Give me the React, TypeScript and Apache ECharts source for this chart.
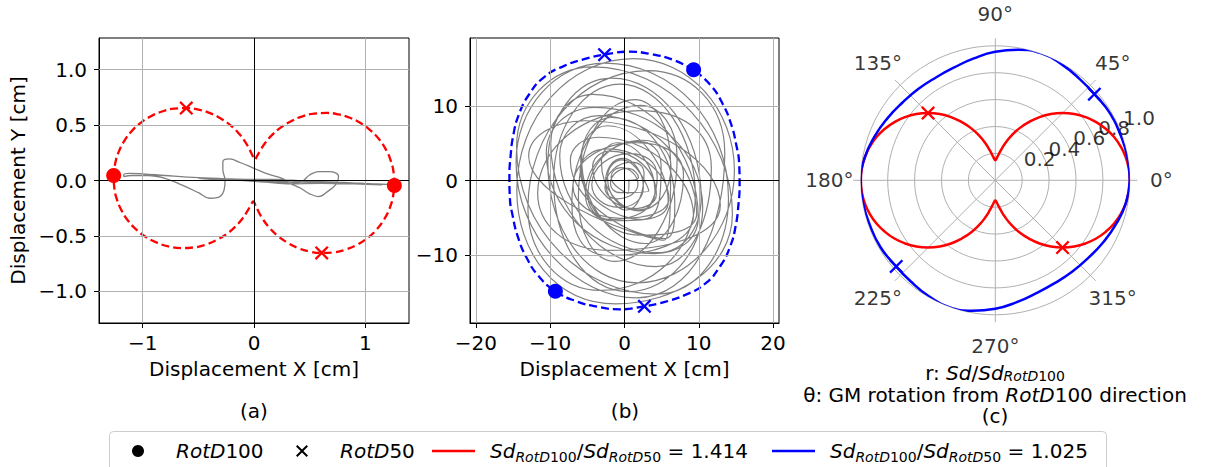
import React, { useEffect, useRef } from 'react';
import * as echarts from 'echarts';

const FONT = 'DejaVu Sans';

// ---------- panel (c): Sd / Sd_RotD100 versus GM rotation angle (deg) ----------
const redTheta = [0, 5, 10, 15, 20, 25, 30, 35, 40, 45, 50, 55, 60, 65, 70, 75, 80, 85, 90, 95, 100, 105, 110, 115, 120, 125, 130, 135, 140, 145, 150, 155, 160, 165, 170, 175, 180,
  185, 190, 195, 200, 205, 210, 215, 220, 225, 230, 235, 240, 245, 250, 255, 260, 265, 270, 275, 280, 285, 290, 295, 300, 305, 310, 315, 320, 325, 330, 335, 340, 345, 350, 355, 360];
const redR = [1.0, 0.996, 0.985, 0.966, 0.94, 0.906, 0.866, 0.819, 0.766, 0.707, 0.643, 0.574, 0.5, 0.428, 0.355, 0.285, 0.222, 0.175, 0.15, 0.175, 0.222, 0.285, 0.355, 0.428, 0.5, 0.574, 0.643, 0.707, 0.766, 0.819, 0.866, 0.906, 0.94, 0.966, 0.985, 0.996, 1.0,
  0.996, 0.985, 0.966, 0.94, 0.906, 0.866, 0.819, 0.766, 0.707, 0.643, 0.574, 0.5, 0.428, 0.355, 0.285, 0.222, 0.175, 0.15, 0.175, 0.222, 0.285, 0.355, 0.428, 0.5, 0.574, 0.643, 0.707, 0.766, 0.819, 0.866, 0.906, 0.94, 0.966, 0.985, 0.996, 1.0];

const blueTheta = [0, 10, 20, 30, 40, 50, 60, 70, 80, 90, 100, 110, 120, 130, 140, 150, 160, 170, 180,
  190, 200, 210, 220, 230, 240, 250, 260, 270, 280, 290, 300, 310, 320, 330, 340, 350, 360];
const blueR = [1.0, 0.997, 0.99, 0.988, 0.977, 0.98, 0.993, 1.004, 0.985, 0.955, 0.92, 0.893, 0.883, 0.888, 0.9, 0.925, 0.955, 0.985, 1.0,
  0.997, 0.99, 0.988, 0.977, 0.98, 0.993, 1.004, 0.985, 0.955, 0.92, 0.893, 0.883, 0.888, 0.9, 0.925, 0.955, 0.985, 1.0];

// RotD100 / RotD50 rotation angles (deg) and normalised amplitudes
const rotD100Theta = [0, 180];
const rotD100R = [1, 1];
const redRotD50Theta = [135, 315];
const redRotD50R = [0.707, 0.707];
const blueRotD50Theta = [41, 221];
const blueRotD50R = [0.976, 0.976];

// Sd_RotD100 (cm) and RotD100 direction (deg) of each record
const sdA = 1.262;
const dirA = -2;
const sdB = 17.56;
const dirB = 58;

// ---------- displacement traces (cm) ----------
const traceA = [
  [0.02, 0.0], [0.25, -0.01], [0.5, -0.015], [0.8, -0.02], [1.05, -0.03], [1.2, -0.035], [1.0, -0.03], [0.75, -0.015],
  [0.45, -0.005], [0.2, 0.01], [0.0, 0.01], [-0.25, 0.015], [-0.5, 0.025], [-0.8, 0.045], [-1.0, 0.06], [-1.12, 0.065],
  [-1.17, 0.055], [-1.17, 0.035], [-1.1, 0.045], [-0.95, 0.045], [-0.8, 0.02], [-0.65, -0.04], [-0.5, -0.11], [-0.4, -0.16],
  [-0.33, -0.155], [-0.27, -0.09], [-0.26, 0.0], [-0.28, 0.1], [-0.28, 0.17], [-0.22, 0.195], [-0.12, 0.16], [0.0, 0.11],
  [0.12, 0.06], [0.25, 0.02], [0.35, -0.02], [0.42, -0.015], [0.5, 0.05], [0.58, 0.08], [0.68, 0.08], [0.76, 0.04],
  [0.74, -0.03], [0.66, -0.1], [0.58, -0.145], [0.5, -0.12], [0.4, -0.06], [0.28, -0.02], [0.1, -0.015], [-0.1, 0.0],
  [-0.3, 0.01], [-0.5, 0.02], [-0.3, 0.005], [0.0, -0.005], [0.3, -0.03], [0.6, -0.025], [0.9, -0.03], [1.15, -0.04],
  [0.95, -0.025], [0.6, -0.02], [0.3, -0.01], [0.05, 0.0],
];

// orbit of record (b): each loop listed by its right, top, left and bottom turning points
const traceB = [
  [0, 0],
  [1.89, 0.4], [0.46, 1.64], [-1.89, -0.4], [-0.46, -1.64],
  [3.28, -1.43], [-0.29, 2.78], [-2.28, 0.43], [1.29, -3.78],
  [4.29, -1.84], [-1.99, 3.95], [-4.29, 1.84], [1.99, -3.95],
  [6.26, 1.88], [2.5, 5.42], [-5.26, -1.88], [-1.5, -5.42],
  [5.89, -2.87], [-2.29, 7.37], [-5.89, 2.87], [2.29, -7.37],
  [9.72, -4.4], [-3.4, 8.72], [-8.72, 3.4], [4.4, -9.72],
  [10.32, -2.33], [-1.74, 13.77], [-10.32, 2.33], [1.74, -13.77],
  [14.8, 1.3], [1.2, 16.4], [-14.5, -1.3], [-1.2, -16.6],
  [14.53, -4.5], [-4.27, 15.3], [-14.53, 4.5], [4.27, -15.3],
  [14.0, -2.4], [-2.65, 15.8], [-14.6, 2.4], [1.65, -15.8],
  [13.5, 3.7], [3.2, 14.8], [-13.0, -3.7], [-3.2, -14.8],
  [9.54, -1.96], [-0.66, 12.97], [-9.54, -0.04], [0.66, -14.97],
  [10.53, -3.74], [-4.0, 9.85], [-10.53, 3.74], [4.0, -9.85],
  [9.93, -4.97], [-4.26, 11.6], [-9.93, 4.97], [4.26, -11.6],
  [11.69, 1.73], [2.15, 9.4], [-11.69, -1.73], [-2.15, -9.4],
  [12.9, -3.32], [-5.33, 8.04], [-12.9, 3.32], [5.33, -8.04],
  [6.21, 2.34], [1.33, 10.89], [-6.21, -2.34], [-1.33, -10.89],
  [7.09, 3.08], [2.16, 10.11], [-7.09, -3.08], [-2.16, -10.11],
  [9.29, -4.7], [-3.5, 5.82], [-7.29, 2.7], [5.5, -7.82],
  [6.77, -3.1], [-1.79, 8.48], [-5.77, 3.1], [2.79, -8.48],
  [7.94, 0.72], [1.55, 5.09], [-6.94, -0.72], [-0.55, -5.09],
  [5.97, -2.4], [-2.39, 4.25], [-5.97, 1.4], [2.39, -5.25],
  [4.93, 2.0], [1.87, 5.27], [-4.93, -2.0], [-1.87, -5.27],
  [4.11, -1.42], [-1.01, 5.08], [-3.11, 2.42], [2.01, -4.08],
  [4.4, 0.58], [0.71, 3.63], [-4.4, -0.58], [-0.71, -3.63],
  [2.54, -0.91], [-0.3, 2.97], [-2.54, -0.09], [0.3, -3.97],
  [2.63, 0.94], [1.0, 2.46], [-2.63, -0.94], [-1.0, -2.46],
  [1.81, -0.48], [-0.5, 1.72], [-1.81, 0.48], [0.5, -1.72],
  [0.6, 0.1],
];

// ---------- ticks ----------
const aXTicks = [-1, 0, 1];
const aYTicks = [-1, -0.5, 0, 0.5, 1];
const bXTicks = [-20, -10, 0, 10, 20];
const bYTicks = [-10, 0, 10];
const polarAngleTicks = [0, 45, 90, 135, 180, 225, 270, 315];
const polarRadiusTicks = [0.2, 0.4, 0.6, 0.8, 1.0];

const XPATH = 'path://M0,1.4L1.4,0L6,4.6L10.6,0L12,1.4L7.4,6L12,10.6L10.6,12L6,7.4L1.4,12L0,10.6L4.6,6Z';
const LINEPATH = 'path://M0,0H43V2.5H0Z';
const GRID_C = '#b0b0b0';
const CX = 995.3;
const CY = 180.3;
const R_POLAR = 134.5;

const minus = (s: string) => s.replace('-', '\u2212');
const toXY = (rs: number[], ths: number[], sd: number, dir: number) =>
  rs.map((r, i) => [sd * r * Math.cos(((ths[i] + dir) * Math.PI) / 180), sd * r * Math.sin(((ths[i] + dir) * Math.PI) / 180)]);
const toPolar = (rs: number[], ths: number[]) => rs.map((r, i) => [r, ths[i]]);

const AXF = { fontFamily: FONT, fontSize: 20, color: '#000' };
const RICH_LEG: any = {
  i: { fontFamily: FONT, fontSize: 20, fontStyle: 'italic', lineHeight: 26, color: '#000' },
  n: { fontFamily: FONT, fontSize: 20, lineHeight: 26, color: '#000' },
  si: { fontFamily: FONT, fontSize: 14, fontStyle: 'italic', lineHeight: 14, verticalAlign: 'bottom', color: '#000' },
  sn: { fontFamily: FONT, fontSize: 14, lineHeight: 14, verticalAlign: 'bottom', color: '#000' },
  gA: { width: 27 },
  gB: { width: 10 },
};
const RICH_TXT: any = {
  i: { fontFamily: FONT, fontSize: 20, fontStyle: 'italic', lineHeight: 20, color: '#000' },
  n: { fontFamily: FONT, fontSize: 20, lineHeight: 20, color: '#000' },
  si: { fontFamily: FONT, fontSize: 14, fontStyle: 'italic', lineHeight: 8, verticalAlign: 'bottom', color: '#000' },
  sn: { fontFamily: FONT, fontSize: 14, lineHeight: 8, verticalAlign: 'bottom', color: '#000' },
};

function legendCfg(name: string, left: number, w: number, icon: string, color: string, text: string) {
  return {
    left, top: 441, padding: 0, itemWidth: w, itemHeight: 12, selectedMode: false, symbolKeepAspect: true,
    data: [{ name, icon, itemStyle: { color, borderWidth: 0, opacity: 1 } }],
    formatter: () => text,
    textStyle: { ...AXF, rich: RICH_LEG },
  };
}

function xAxisCfg(grid: number, min: number, max: number, ticks: number[], fmt: (v: number) => string) {
  return {
    gridIndex: grid, type: 'value', min, max,
    name: 'Displacement X [cm]', nameLocation: 'middle', nameGap: 36, nameTextStyle: AXF,
    axisLine: { show: true, onZero: false, lineStyle: { color: '#000', width: 1 } },
    axisTick: { show: true, length: 5, inside: false, customValues: ticks, lineStyle: { color: '#000', width: 1 } },
    axisLabel: { ...AXF, margin: 10, customValues: ticks, formatter: fmt },
    splitLine: { show: false },
  };
}
function yAxisCfg(grid: number, min: number, max: number, ticks: number[], fmt: (v: number) => string, name?: string) {
  return {
    gridIndex: grid, type: 'value', min, max,
    name: name || '', nameLocation: 'middle', nameGap: 71, nameRotate: 90, nameTextStyle: AXF,
    axisLine: { show: true, onZero: false, lineStyle: { color: '#000', width: 1 } },
    axisTick: { show: true, length: 5, inside: false, customValues: ticks, lineStyle: { color: '#000', width: 1 } },
    axisLabel: { ...AXF, margin: 12, customValues: ticks, formatter: fmt },
    splitLine: { show: false },
  };
}
function markLines(idx: number, xs: number[], ys: number[], color: string, z: number) {
  return {
    type: 'line', xAxisIndex: idx, yAxisIndex: idx, data: [], silent: true, z,
    markLine: {
      silent: true, symbol: ['none', 'none'], label: { show: false }, animation: false,
      lineStyle: { color, width: 1, type: 'solid' },
      emphasis: { disabled: true },
      data: [...xs.map((v) => ({ xAxis: v })), ...ys.map((v) => ({ yAxis: v }))],
    },
  };
}
const hiddenAngle = (polarIndex: number) => ({
  polarIndex, type: 'value', min: 0, max: 360, interval: 45, startAngle: 0, clockwise: false,
  axisLine: { show: false }, axisTick: { show: false }, axisLabel: { show: false }, splitLine: { show: false },
});
const marker = (color: string) => ({ color, opacity: 1 });

export default function App() {
  const ref = useRef<HTMLDivElement>(null);
  useEffect(() => {
    if (!ref.current) return;
    const chart = echarts.init(ref.current, null, { renderer: 'svg', width: 1207, height: 467 });
    const aCurve = toXY(redR, redTheta, sdA, dirA);
    const bCurve = toXY(blueR, blueTheta, sdB, dirB);
    const aDots = toXY(rotD100R, rotD100Theta, sdA, dirA);
    const bDots = toXY(rotD100R, rotD100Theta, sdB, dirB);
    const aX = toXY(redRotD50R, redRotD50Theta, sdA, dirA);
    const bX = toXY(blueRotD50R, blueRotD50Theta, sdB, dirB);
    const txt = (x: number, y: number, text: string) => ({
      type: 'text', x, y,
      style: { text, rich: RICH_TXT, fontFamily: FONT, fontSize: 20, fill: '#000', align: 'center', verticalAlign: 'middle' },
    });

    const option: any = {
      animation: false,
      backgroundColor: '#fff',
      textStyle: { fontFamily: FONT },
      grid: [
        { left: 99, top: 38, width: 310, height: 285, show: true, borderColor: '#000', borderWidth: 1, backgroundColor: 'transparent' },
        { left: 470, top: 38, width: 309, height: 285, show: true, borderColor: '#000', borderWidth: 1, backgroundColor: 'transparent' },
      ],
      xAxis: [
        xAxisCfg(0, -1.393, 1.393, aXTicks, (v) => minus(String(v))),
        xAxisCfg(1, -20.8, 20.8, bXTicks, (v) => minus(String(v))),
      ],
      yAxis: [
        yAxisCfg(0, -1.284, 1.284, aYTicks, (v) => minus(v.toFixed(1)), 'Displacement Y [cm]'),
        yAxisCfg(1, -19.18, 19.18, bYTicks, (v) => minus(String(v))),
      ],
      polar: [
        { center: [CX, CY], radius: 142 },
        { center: [CX, CY], radius: R_POLAR },
        { center: [CX, CY], radius: 166 },
      ],
      angleAxis: [
        {
          polarIndex: 0, type: 'value', min: 0, max: 360, interval: 45, startAngle: 0, clockwise: false,
          axisLine: { show: false }, axisTick: { show: false }, axisLabel: { show: false },
          splitLine: { show: true, lineStyle: { color: GRID_C, width: 1 } },
        },
        hiddenAngle(1),
        hiddenAngle(2),
      ],
      radiusAxis: [
        { polarIndex: 0, type: 'value', min: 0, max: 1.056, show: false },
        {
          polarIndex: 1, type: 'value', min: 0, max: 1, interval: 0.2,
          axisLine: { show: false }, axisTick: { show: false }, axisLabel: { show: false },
          splitLine: { show: true, lineStyle: { color: GRID_C, width: 1 } },
        },
        { polarIndex: 2, type: 'value', min: 0, max: 1, show: false },
      ],
      legend: [
        legendCfg('RotD100', 132, 12, 'circle', '#000', '{gA| }{i|RotD}{n|100}'),
        legendCfg('RotD50', 296, 12, XPATH, '#000', '{gA| }{i|RotD}{n|50}'),
        legendCfg('r1414', 432, 43, LINEPATH, '#ff0000', '{gB| }{i|Sd}{si|RotD}{sn|100}{n|/}{i|Sd}{si|RotD}{sn|50}{n| = 1.414}'),
        legendCfg('r1025', 772, 43, LINEPATH, '#0000ff', '{gB| }{i|Sd}{si|RotD}{sn|100}{n|/}{i|Sd}{si|RotD}{sn|50}{n| = 1.025}'),
      ],
      graphic: [
        { type: 'rect', z: -10, shape: { x: 109.5, y: 431.5, width: 997, height: 60, r: 4 }, style: { fill: '#fff', stroke: '#cccccc', lineWidth: 1 } },
        txt(254, 411, '{n|(a)}'),
        txt(625, 411, '{n|(b)}'),
        txt(995, 416, '{n|(c)}'),
        txt(995, 373, '{n|r: }{i|Sd}{n|/}{i|Sd}{si|RotD}{sn|100}'),
        txt(995, 395, '{n|θ: GM rotation from }{i|RotD}{n|100 direction}'),
      ],
      series: [
        // ----- panel (a)
        markLines(0, aXTicks, aYTicks, GRID_C, 1),
        { type: 'line', name: 'traceA', xAxisIndex: 0, yAxisIndex: 0, data: traceA, symbol: 'none', smooth: 0.4, z: 2, silent: true, lineStyle: { color: '#808080', width: 1.3 } },
        markLines(0, [0], [0], '#000', 3),
        { type: 'line', name: 'dashA', xAxisIndex: 0, yAxisIndex: 0, data: aCurve, symbol: 'none', smooth: true, z: 4, silent: true, lineStyle: { color: '#ff0000', width: 2.3, type: [8, 4] } },
        { type: 'scatter', name: 'RotD100', xAxisIndex: 0, yAxisIndex: 0, data: aDots, symbol: 'circle', symbolSize: 15, z: 5, itemStyle: marker('#ff0000') },
        { type: 'scatter', name: 'RotD50', xAxisIndex: 0, yAxisIndex: 0, data: aX, symbol: XPATH, symbolSize: 14, z: 5, itemStyle: marker('#ff0000') },
        // ----- panel (b)
        markLines(1, bXTicks, bYTicks, GRID_C, 1),
        { type: 'line', name: 'traceB', xAxisIndex: 1, yAxisIndex: 1, data: traceB, symbol: 'none', smooth: 0.55, z: 2, silent: true, lineStyle: { color: '#808080', width: 1.2 } },
        markLines(1, [0], [0], '#000', 3),
        { type: 'line', name: 'dashB', xAxisIndex: 1, yAxisIndex: 1, data: bCurve, symbol: 'none', smooth: true, z: 4, silent: true, lineStyle: { color: '#0000ff', width: 2.3, type: [8, 4] } },
        { type: 'scatter', name: 'RotD100', xAxisIndex: 1, yAxisIndex: 1, data: bDots, symbol: 'circle', symbolSize: 15, z: 5, itemStyle: marker('#0000ff') },
        { type: 'scatter', name: 'RotD50', xAxisIndex: 1, yAxisIndex: 1, data: bX, symbol: XPATH, symbolSize: 14, z: 5, itemStyle: marker('#0000ff') },
        // ----- panel (c)
        {
          type: 'scatter', name: 'angleLabels', coordinateSystem: 'polar', polarIndex: 2, silent: true, z: 1,
          data: polarAngleTicks.map((a) => [1, a]), symbol: 'circle', symbolSize: 1, itemStyle: { color: 'rgba(0,0,0,0)' },
          label: { show: true, position: 'inside', ...AXF, formatter: (p: any) => p.value[1] + '°' },
        },
        {
          type: 'scatter', name: 'radiusLabels', coordinateSystem: 'polar', polarIndex: 1, silent: true, z: 1,
          data: polarRadiusTicks.map((r) => [r, 22.5]), symbol: 'circle', symbolSize: 1, itemStyle: { color: 'rgba(0,0,0,0)' },
          label: { show: true, position: 'right', distance: 3, offset: [0, -11], ...AXF, formatter: (p: any) => p.value[0].toFixed(1) },
        },
        { type: 'line', name: 'r1414', coordinateSystem: 'polar', polarIndex: 1, data: toPolar(redR, redTheta), symbol: 'none', smooth: true, z: 3, lineStyle: { color: '#ff0000', width: 2.5 }, itemStyle: { color: '#ff0000' } },
        { type: 'line', name: 'r1025', coordinateSystem: 'polar', polarIndex: 1, data: toPolar(blueR, blueTheta), symbol: 'none', smooth: true, z: 3, lineStyle: { color: '#0000ff', width: 2.5 }, itemStyle: { color: '#0000ff' } },
        { type: 'scatter', name: 'RotD50', coordinateSystem: 'polar', polarIndex: 1, data: toPolar(redRotD50R, redRotD50Theta), symbol: XPATH, symbolSize: 14, z: 5, itemStyle: marker('#ff0000') },
        { type: 'scatter', name: 'RotD50', coordinateSystem: 'polar', polarIndex: 1, data: toPolar(blueRotD50R, blueRotD50Theta), symbol: XPATH, symbolSize: 14, z: 5, itemStyle: marker('#0000ff') },
      ],
    };
    chart.setOption(option);
    return () => chart.dispose();
  }, []);
  return <div ref={ref} style={{ position: 'absolute', left: 0, top: 0, width: 1207, height: 467, background: '#fff' }} />;
}
